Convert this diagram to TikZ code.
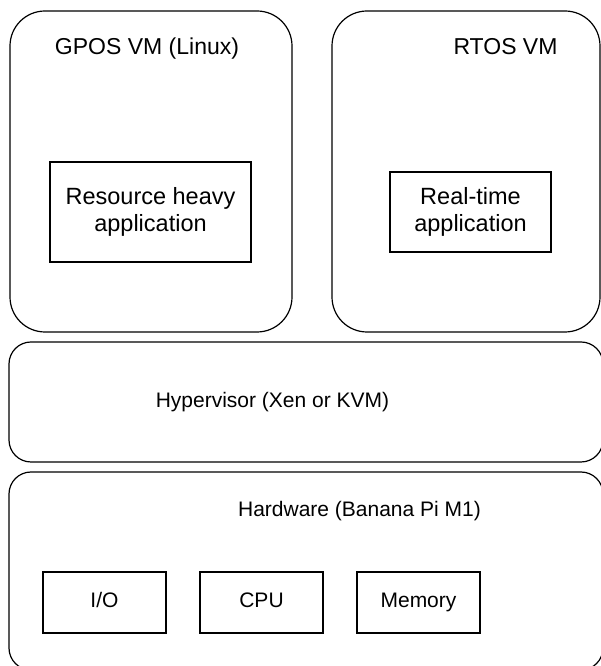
\documentclass[tikz,border=0pt]{standalone}
\usepackage{fontspec}
\setmainfont{Liberation Sans}
\begin{document}
\begin{tikzpicture}[x=1pt, y=1pt,
  vmbox/.style={draw, line width=1.2, rounded corners=35, inner sep=0},
  layerbox/.style={draw, line width=1.2, rounded corners=22, inner sep=0},
  appbox/.style={draw, line width=1.2, inner sep=0, align=center, font=\fontsize{23.5}{27}\selectfont},
  partbox/.style={draw, line width=1.2, inner sep=0, minimum width=123, minimum height=61, text height=15, text depth=4.5},
  lbl/.style={anchor=base, inner sep=0},
  every node/.style={font=\fontsize{21}{27}\selectfont}]
\clip (0,0) rectangle (601,666);

\node[vmbox, minimum width=282, minimum height=321] (gpos) at (151, 494.5) {};
\node[lbl, font=\fontsize{23}{27}\selectfont] (gposlbl) at (147, 611) {GPOS VM (Linux)};
\node[appbox, minimum width=201, minimum height=100] (heavyapp) at (150.5, 454) {Resource heavy\\application};

\node[vmbox, minimum width=268, minimum height=321] (rtos) at (466, 494.5) {};
\node[lbl, font=\fontsize{23}{27}\selectfont] (rtoslbl) at (505.5, 611.5) {RTOS VM};
\node[appbox, minimum width=161, minimum height=80] (rtapp) at (470.5, 454) {Real-time\\application};

\node[layerbox, minimum width=594, minimum height=120] (hyp) at (306, 264) {};
\node[lbl] (hyplbl) at (272.5, 258) {Hypervisor (Xen or KVM)};

\node[layerbox, minimum width=594, minimum height=198] (hw) at (306, 95) {};
\node[lbl] (hwlbl) at (359.5, 149) {Hardware (Banana Pi M1)};
\node[partbox] (io) at (104.5, 63.5) {I/O};
\node[partbox] (cpu) at (261.5, 63.5) {CPU};
\node[partbox] (mem) at (418.5, 63.5) {Memory};
\end{tikzpicture}
\end{document}
